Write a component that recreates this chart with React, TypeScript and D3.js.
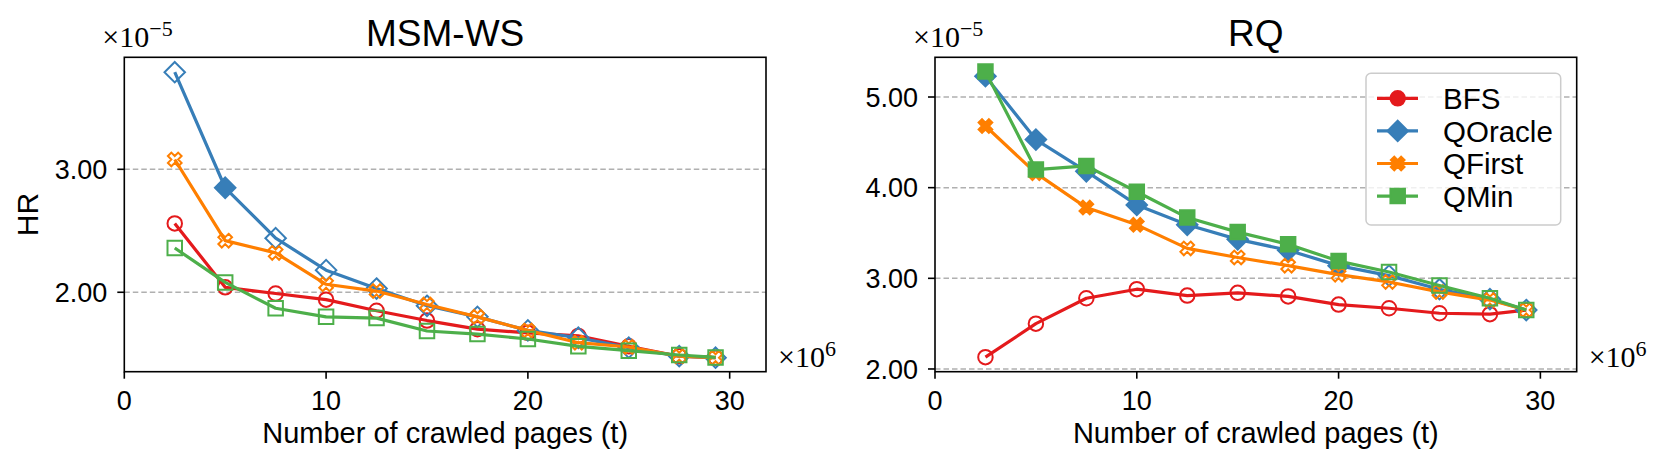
import * as d3 from 'd3';

// crawled pages, in millions
const pages = [2.5, 5, 7.5, 10, 12.5, 15, 17.5, 20, 22.5, 25, 27.5, 29.3];
const methods = ['BFS', 'QOracle', 'QFirst', 'QMin'];
const colors = ['#e41a1c', '#377eb8', '#ff7f00', '#4daf4a'];
const shapes = ['circle', 'diamond', 'x', 'square'];

// HR values (x 1e-5)
const msmBFS = [2.56, 2.04, 1.99, 1.94, 1.85, 1.77, 1.70, 1.67, 1.645, 1.56, 1.48, 1.468];
const msmQOracle = [3.79, 2.85, 2.44, 2.18, 2.03, 1.89, 1.80, 1.69, 1.63, 1.55, 1.48, 1.468];
const msmQFirst = [3.08, 2.42, 2.32, 2.065, 2.01, 1.90, 1.80, 1.69, 1.59, 1.555, 1.48, 1.468];
const msmQMin = [2.36, 2.08, 1.87, 1.80, 1.79, 1.685, 1.66, 1.62, 1.56, 1.525, 1.49, 1.47];

const rqBFS = [2.13, 2.50, 2.78, 2.88, 2.81, 2.84, 2.80, 2.71, 2.67, 2.615, 2.605, 2.65];
const rqQOracle = [5.23, 4.53, 4.18, 3.81, 3.59, 3.43, 3.31, 3.14, 3.03, 2.88, 2.77, 2.65];
const rqQFirst = [4.68, 4.16, 3.78, 3.59, 3.33, 3.23, 3.14, 3.04, 2.96, 2.85, 2.76, 2.65];
const rqQMin = [5.28, 4.20, 4.24, 3.955, 3.67, 3.51, 3.375, 3.19, 3.07, 2.92, 2.78, 2.65];

// 1 = filled marker, 0 = hollow
const msmFilled = [
  [0, 0, 0, 0, 0, 0, 0, 0, 0, 0, 0, 0],
  [0, 1, 0, 0, 0, 0, 0, 0, 0, 0, 0, 0],
  [0, 0, 0, 0, 0, 0, 0, 0, 0, 0, 0, 0],
  [0, 0, 0, 0, 0, 0, 0, 0, 0, 0, 0, 0],
];
const rqFilled = [
  [0, 0, 0, 0, 0, 0, 0, 0, 0, 0, 0, 0],
  [1, 1, 1, 1, 1, 1, 1, 1, 0, 0, 0, 0],
  [1, 1, 1, 1, 0, 0, 0, 0, 0, 0, 0, 0],
  [1, 1, 1, 1, 1, 1, 1, 1, 0, 0, 0, 0],
];

const xTicks = [0, 10, 20, 30];
const msmYTicks = [2, 3];
const rqYTicks = [2, 3, 4, 5];

const FONT = '"Liberation Sans", Arial, sans-serif';
const SERIF = '"Liberation Serif", "DejaVu Serif", serif';
const MS = 14.5;

function markerPath(shape: string, cx: number, cy: number) {
  const h = MS / 2;
  if (shape === 'circle') {
    return `M${cx - h},${cy}a${h},${h} 0 1,0 ${MS},0a${h},${h} 0 1,0 ${-MS},0Z`;
  }
  if (shape === 'square') {
    return `M${cx - h},${cy - h}h${MS}v${MS}h${-MS}Z`;
  }
  if (shape === 'diamond') {
    const d = MS * 0.707;
    return `M${cx},${cy - d}L${cx + d},${cy}L${cx},${cy + d}L${cx - d},${cy}Z`;
  }
  // filled X: plus shape rotated 45deg
  const pts = [[-1, -3], [1, -3], [1, -1], [3, -1], [3, 1], [1, 1], [1, 3], [-1, 3], [-1, 1], [-3, 1], [-3, -1], [-1, -1]];
  const c = Math.SQRT1_2;
  return 'M' + pts.map(([x, y]) => {
    const px = (x / 6) * MS, py = (y / 6) * MS;
    return `${cx + (px - py) * c},${cy + (px + py) * c}`;
  }).join('L') + 'Z';
}

function Panel(props: any) {
  const { left, right, title, yDomain, yTicks, data, filled, legend } = props;
  const top = 57.3, bottom = 371.7;
  const x = d3.scaleLinear().domain([0, 31.8]).range([left, right]);
  const y = d3.scaleLinear().domain(yDomain).range([bottom, top]);
  const line = d3.line<number>().x((_, i) => x(pages[i])).y((d) => y(d));
  const clipId = 'clip' + title.replace(/\W/g, '');

  return (
    <g>
      <defs>
        <clipPath id={clipId}>
          <rect x={left} y={top} width={right - left} height={bottom - top} />
        </clipPath>
      </defs>
      {yTicks.map((t: number) => (
        <line key={'g' + t} x1={left} x2={right} y1={y(t)} y2={y(t)}
          stroke="#b0b0b0" strokeWidth={1.5} strokeDasharray="5.5,3" />
      ))}
      <g clipPath={`url(#${clipId})`}>
        {data.map((vals: number[], si: number) => (
          <g key={methods[si]}>
            <path d={line(vals) || ''} fill="none" stroke={colors[si]} strokeWidth={3.2} strokeLinejoin="round" />
            {vals.map((v, i) => (
              <path key={i} d={markerPath(shapes[si], x(pages[i]), y(v))}
                fill={filled[si][i] ? colors[si] : 'none'} stroke={colors[si]} strokeWidth={2} />
            ))}
          </g>
        ))}
      </g>
      <rect x={left} y={top} width={right - left} height={bottom - top} fill="none" stroke="#000" strokeWidth={1.6} />
      {xTicks.map((t) => (
        <g key={'x' + t}>
          <line x1={x(t)} x2={x(t)} y1={bottom} y2={bottom + 7} stroke="#000" strokeWidth={1.6} />
          <text x={x(t)} y={410} textAnchor="middle" fontSize={27} fontFamily={FONT}>{t}</text>
        </g>
      ))}
      {yTicks.map((t: number) => (
        <g key={'y' + t}>
          <line x1={left - 7} x2={left} y1={y(t)} y2={y(t)} stroke="#000" strokeWidth={1.6} />
          <text x={left - 17} y={y(t)} dy="0.36em" textAnchor="end" fontSize={27} fontFamily={FONT}>{t.toFixed(2)}</text>
        </g>
      ))}
      <text x={(left + right) / 2} y={46} textAnchor="middle" fontSize={37} fontFamily={FONT}>{title}</text>
      <text x={(left + right) / 2} y={443} textAnchor="middle" fontSize={29} fontFamily={FONT}>Number of crawled pages (t)</text>
      <text x={left - 22} y={47} fontSize={30} fontFamily={SERIF}>
        ×10<tspan dy={-11} fontSize={22}>−5</tspan>
      </text>
      <text x={right + 12} y={367} fontSize={30} fontFamily={SERIF}>
        ×10<tspan dy={-11} fontSize={22}>6</tspan>
      </text>
      {legend && (
        <g>
          <rect x={1366} y={73.3} width={194.7} height={151.7} rx={5} fill="#fff" fillOpacity={0.8} stroke="#cccccc" strokeWidth={1.5} />
          {methods.map((m, si) => {
            const ly = 98.3 + si * 32.6;
            return (
              <g key={m}>
                <line x1={1377} x2={1418} y1={ly} y2={ly} stroke={colors[si]} strokeWidth={3.2} />
                <path d={markerPath(shapes[si], 1397.7, ly)} fill={colors[si]} stroke={colors[si]} strokeWidth={2} />
                <text x={1443} y={ly} dy="0.36em" fontSize={29.5} fontFamily={FONT}>{m}</text>
              </g>
            );
          })}
        </g>
      )}
    </g>
  );
}

export default function App() {
  return (
    <svg width={1662} height={474} style={{ position: 'absolute', left: 0, top: 0, background: '#fff' }}>
      <rect width={1662} height={474} fill="#fff" />
      <text transform="translate(38,214.5) rotate(-90)" textAnchor="middle" fontSize={30} fontFamily={FONT}>HR</text>
      <Panel left={124.3} right={766} title="MSM-WS" yDomain={[1.354, 3.911]} yTicks={msmYTicks}
        data={[msmBFS, msmQOracle, msmQFirst, msmQMin]} filled={msmFilled} legend={false} />
      <Panel left={935} right={1576.7} title="RQ" yDomain={[1.970, 5.438]} yTicks={rqYTicks}
        data={[rqBFS, rqQOracle, rqQFirst, rqQMin]} filled={rqFilled} legend={true} />
    </svg>
  );
}
